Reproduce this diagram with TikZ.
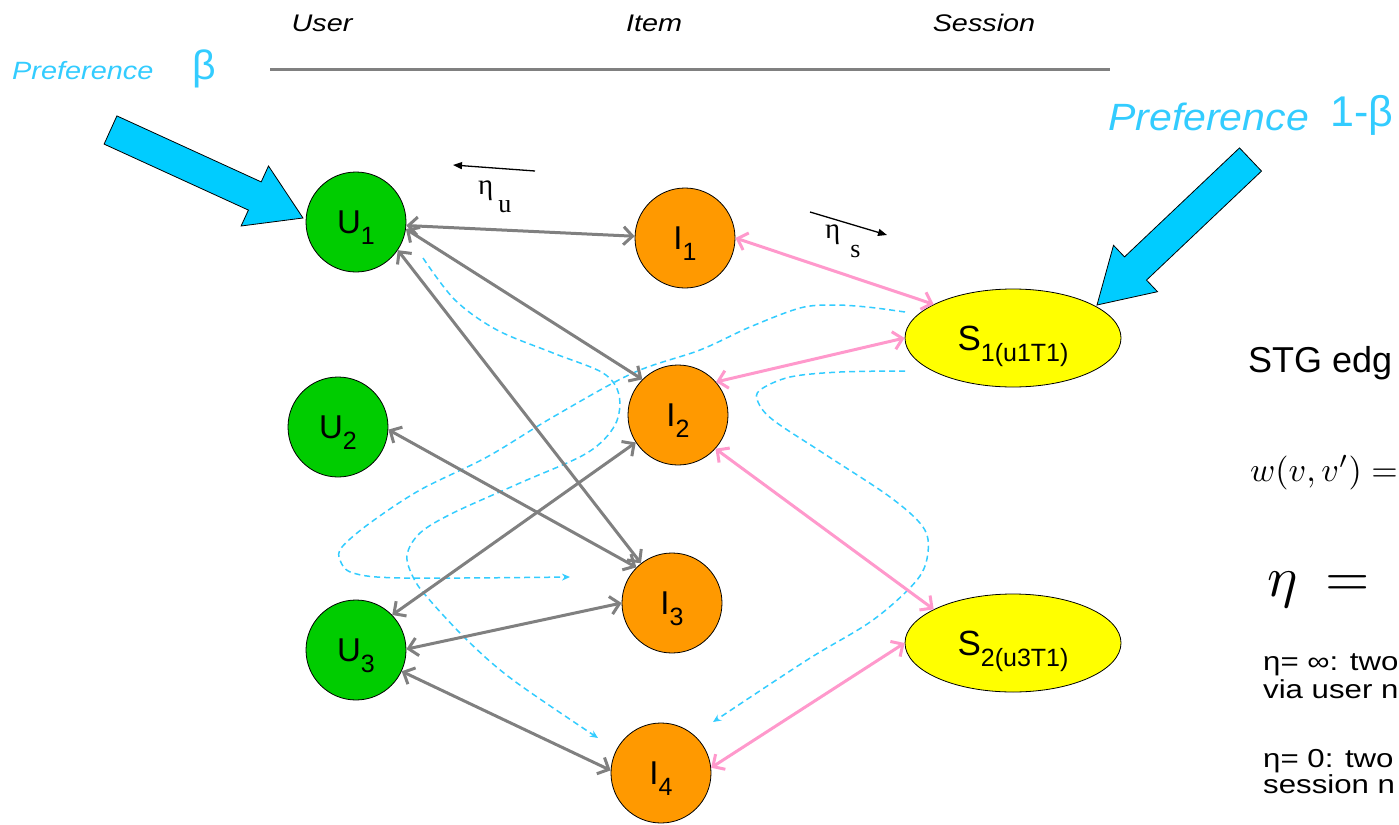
\documentclass[tikz,border=0pt]{standalone}
\usepackage[no-math]{fontspec}
\setmainfont{Liberation Sans}
\newfontfamily\serifx{Liberation Serif}
\usetikzlibrary{arrows.meta,shapes.geometric}
\newcommand\fsz[1]{\fontsize{#1}{#1}\selectfont}
\newcommand\lowsub[2]{\raisebox{-#1}[0pt][0pt]{\fsz{25}#2}}
\definecolor{ugreen}{HTML}{00CC00}
\definecolor{iorange}{HTML}{FF9900}
\definecolor{syellow}{HTML}{FFFF00}
\definecolor{epink}{HTML}{FF99CC}
\definecolor{egray}{HTML}{808080}
\definecolor{prefcyan}{HTML}{33CCFF}
\definecolor{blockcyan}{HTML}{00CCFF}
\definecolor{flowcyan}{HTML}{33CCFF}
\tikzset{
  unode/.style={circle, draw=black, line width=0.8pt, fill=ugreen, minimum size=100pt, inner sep=0pt, font=\fsz{33}},
  inode/.style={circle, draw=black, line width=0.8pt, fill=iorange, minimum size=100pt, inner sep=0pt, font=\fsz{33}},
  snode/.style={ellipse, draw=black, line width=0.8pt, fill=syellow, minimum width=216pt, minimum height=98pt, inner sep=0pt, font=\fsz{35}},
  gedge/.style={draw=egray, line width=3pt, {Straight Barb[length=9pt,width=18pt]}-{Straight Barb[length=9pt,width=18pt]}},
  pedge/.style={draw=epink, line width=3pt, {Straight Barb[length=9pt,width=18pt]}-{Straight Barb[length=9pt,width=18pt]}},
  dflow/.style={draw=flowcyan, line width=1.5pt, dash pattern=on 6pt off 4pt, -{Stealth[length=8pt,width=7pt]}},
  etaarrow/.style={draw=black, line width=1.3pt, -{Triangle[length=9pt,width=7pt]}},
  blockarrow/.style={fill=blockcyan, draw=black, line width=0.8pt, line join=miter},
  hdr/.style={anchor=base, font=\fsz{24}\itshape},
  rtext/.style={anchor=base west, inner sep=0pt, font=\fsz{26}},
}
\begin{document}
\begin{tikzpicture}[x=1pt,y=-1pt]
\useasboundingbox (0,0) rectangle (1399,824);
\clip (0,0) rectangle (1399,824);

% header
\node[hdr] (hUser) at (322,32) {\scalebox{1.2}[1]{User}};
\node[hdr] (hItem) at (654,32) {\scalebox{1.2}[1]{Item}};
\node[hdr] (hSession) at (984,32) {\scalebox{1.2}[1]{Session}};
\coordinate (lineA) at (270,70);
\coordinate (lineB) at (1110,70);
\draw[egray, line width=3pt] (lineA) -- (lineB);

% preference labels
\node[anchor=base west, text=prefcyan, inner sep=0pt] (prefL) at (12,80) {\fsz{25}\itshape\scalebox{1.155}[1]{Preference}};
\node[anchor=base west, text=prefcyan, inner sep=0pt] (betaL) at (192,80) {\fsz{41}β};
\node[anchor=base west, text=prefcyan, inner sep=0pt] (prefR) at (1108,131) {\fsz{38}\itshape\scalebox{1.08}[1]{Preference}};
\node[anchor=base west, text=prefcyan, inner sep=0pt] (betaR) at (1330,127) {\fsz{43}1-β};

% block arrows
\draw[blockarrow] (116.9,115.9) -- (261.2,181.9) -- (268.5,166.0) -- (303,218) -- (241.1,226.0) -- (248.4,210.1) -- (104.1,144.1) -- cycle;
\draw[blockarrow] (1239.5,147.9) -- (1124.5,256.9) -- (1113.5,245.3) -- (1097,305) -- (1157.5,291.7) -- (1146.5,280.1) -- (1261.5,171.1) -- cycle;

% nodes
\node[unode] (U1) at (356,222) {U\lowsub{11pt}{1}};
\node[unode] (U2) at (338,427) {U\lowsub{11pt}{2}};
\node[unode] (U3) at (356,650) {U\lowsub{11pt}{3}};
\node[inode] (I1) at (685,238) {I\lowsub{11pt}{1}};
\node[inode] (I2) at (678,415) {I\lowsub{11pt}{2}};
\node[inode] (I3) at (672,603) {I\lowsub{11pt}{3}};
\node[inode] (I4) at (661,773) {I\lowsub{11pt}{4}};
\node[snode] (S1) at (1013,338) {S\lowsub{11pt}{1(u1T1)}};
\node[snode] (S2) at (1013,643) {S\lowsub{11pt}{2(u3T1)}};

% dashed flows
\coordinate (fa0) at (423,258);
\coordinate (fa1) at (598,738);
\draw[dflow] plot[smooth, tension=0.55] coordinates {(fa0) (455,300) (497,330) (553,353) (603,373) (619,395) (615,425) (587,453) (520,483) (453,513) (420,533) (407,555) (413,577) (427,597) (467,640) (513,680) (fa1)};
\coordinate (fb0) at (905,312);
\coordinate (fb1) at (570,577);
\draw[dflow] plot[smooth, tension=0.55] coordinates {(fb0) (867,307) (833,305) (800,308) (750,327) (700,350) (633,373) (553,417) (487,457) (420,490) (370,523) (342,547) (340,560) (353,573) (403,578) (fb1)};
\coordinate (fc0) at (905,371);
\coordinate (fc1) at (713,722);
\draw[dflow] plot[smooth, tension=0.55] coordinates {(fc0) (840,372) (790,377) (760,390) (758,402) (773,420) (823,453) (890,497) (923,527) (928,552) (917,580) (873,620) (807,660) (fc1)};

% gray edges
\draw[gedge] (U1.-4) -- (I1.178);
\draw[gedge] (U1.-8) -- (I2.135);
\draw[gedge] (U1.-34) -- (I3.128);
\draw[gedge] (U2.-3) -- (I3.135);
\draw[gedge] (U3.44) -- (I2.213);
\draw[gedge] (U3.1) -- (I3.180);
\draw[gedge] (U3.-25) -- (I4.177);

% pink edges
\draw[pedge] (I1.0) -- (S1.157);
\draw[pedge] (I2.41) -- (S1.180);
\draw[pedge] (I2.-42) -- (S2.157);
\draw[pedge] (I4.6) -- (S2.180);

% eta arrows
\coordinate (eu0) at (535,171);
\coordinate (eu1) at (453,165);
\draw[etaarrow] (eu0) -- (eu1);
\node[anchor=base west, inner sep=0pt] (etau) at (478,194) {\serifx\fsz{29}η\hspace{5pt}\raisebox{-18pt}{\fsz{26}u}};
\coordinate (es0) at (810,212);
\coordinate (es1) at (887,235);
\draw[etaarrow] (es0) -- (es1);
\node[anchor=base west, inner sep=0pt] (etas) at (825,238) {\serifx\fsz{29}η\hspace{10pt}\raisebox{-19pt}{\fsz{26}s}};

% right text
\node[anchor=base west, inner sep=0pt, font=\fsz{36}] (stg) at (1248,372) {STG edg};
\node[anchor=base west, inner sep=0pt] (wform) at (1250,481) {\scalebox{3.4}{$w(v,v') =$}};
\node[anchor=base west, inner sep=0pt] (etaform) at (1267,596) {\scalebox{5.7}{$\eta$}\hspace{28pt}\scalebox{5.7}{$=$}};
\node[rtext] (t1) at (1263,670) {\scalebox{1.2}[1]{η= ∞: two}};
\node[rtext] (t2) at (1263,698) {\scalebox{1.2}[1]{via user n}};
\node[rtext] (t3) at (1263,767) {\scalebox{1.2}[1]{η= 0: two}};
\node[rtext] (t4) at (1263,793) {\scalebox{1.2}[1]{session n}};
\end{tikzpicture}
\end{document}
